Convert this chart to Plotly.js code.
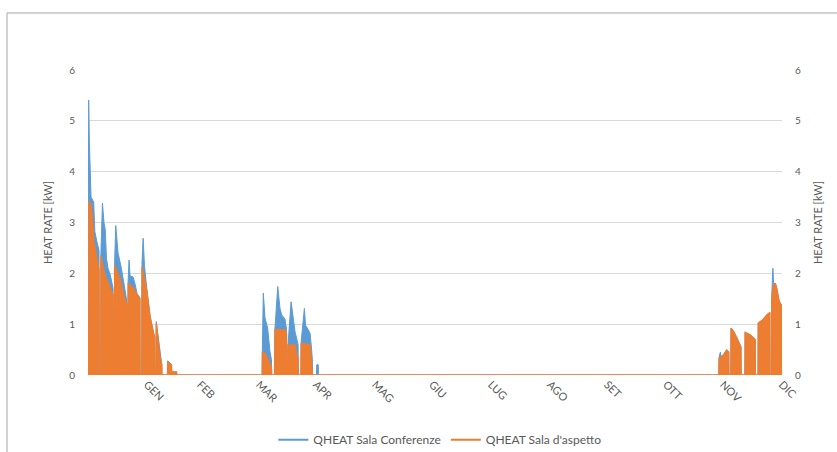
<!DOCTYPE html>
<html>
<head>
<meta charset="utf-8">
<script src="https://cdn.plot.ly/plotly-3.0.1.min.js"></script>
<style>
  html, body { margin: 0; padding: 0; background: #ffffff; }
  #chart { width: 837px; height: 452px; }
</style>
</head>
<body>
<div id="chart"></div>
<script>
// Month labels, placed at the last day of each month (day of year)
const monthLabels = ['GEN', 'FEB', 'MAR', 'APR', 'MAG', 'GIU', 'LUG', 'AGO', 'SET', 'OTT', 'NOV', 'DIC'];
const monthEndDay = [31, 59, 90, 120, 151, 181, 212, 243, 273, 304, 334, 365];

// QHEAT Sala Conferenze: day of year / heat rate [kW]
const confDay = [
  0, 0, 0.3, 0.35, 0.7, 1.2, 1.6, 3.0, 3.6, 4.7, 5.8, 5.9,
  6.7, 6.8, 7.6, 8.4, 9.1, 9.7, 10.5, 11.7, 12.6, 13.2, 13.3,
  13.9, 14.0, 14.6, 15.8, 17.4, 18.9, 20.0, 20.4, 20.5,
  21.0, 21.1, 21.6, 22.1, 23.7, 24.7, 25.8, 27.3, 27.4,
  28.3, 28.4, 29.0, 29.7, 30.9, 32.6, 34.4, 35.0, 35.1,
  35.8, 35.9, 37.9, 38.8, 38.9,
  41.8, 41.9, 43.9, 44.0, 46.6, 46.7,
  91.6, 91.7, 92.2, 93.1, 94.5, 95.7, 96.5, 96.6,
  98.2, 98.3, 99.8, 100.5, 101.0, 101.9, 103.6, 104.4, 104.5,
  105.1, 105.2, 106.8, 108.0, 108.9, 110.5, 110.6,
  112.0, 112.1, 113.8, 114.4, 115.7, 116.8, 117.6, 118.0, 118.1,
  120.2, 120.3, 121.1, 121.2,
  331.8, 331.9, 332.6, 333.0, 334.1, 335.9, 337.0, 337.1,
  338.1, 338.2, 339.7, 341.1, 342.9, 343.4, 343.5,
  345.5, 345.6, 348.2, 350.4, 350.9, 351.0,
  352.4, 352.5, 354.7, 357.0, 358.6, 358.7,
  359.5, 359.6, 360.2, 360.6, 361.5, 362.2, 363.5, 364.6, 364.8, 365
];
const confKw = [
  0, 0.95, 0.95, 5.41, 4.6, 4.0, 3.5, 3.4, 2.82, 2.62, 2.45, 0,
  0, 2.40, 3.38, 3.0, 2.85, 2.3, 2.1, 1.97, 1.84, 1.70, 0,
  0, 2.2, 2.94, 2.4, 2.13, 1.8, 1.55, 1.45, 0,
  0, 1.85, 2.26, 1.95, 1.93, 1.8, 1.6, 1.52, 0,
  0, 2.2, 2.69, 2.15, 1.7, 1.18, 0.82, 0.76, 0,
  0, 1.05, 0.38, 0.2, 0,
  0, 0.28, 0.2, 0.06, 0.06, 0,
  0, 0.5, 1.61, 1.12, 0.92, 0.46, 0.3, 0,
  0, 0.9, 1.74, 1.48, 1.3, 1.18, 1.1, 0.9, 0,
  0, 0.6, 1.44, 1.05, 0.85, 0.6, 0,
  0, 0.65, 1.31, 0.98, 0.9, 0.82, 0.5, 0.3, 0,
  0, 0.2, 0.2, 0,
  0, 0.35, 0.45, 0.36, 0.39, 0.49, 0.45, 0,
  0, 0.92, 0.85, 0.75, 0.59, 0.55, 0,
  0, 0.84, 0.79, 0.72, 0.70, 0,
  0, 1.02, 1.08, 1.18, 1.23, 0,
  0, 1.55, 2.10, 1.80, 1.80, 1.71, 1.45, 1.38, 0, 0
];

// QHEAT Sala d'aspetto: day of year / heat rate [kW]
const attesaDay = [
  0, 0, 0.4, 0.5, 1.5, 2.2, 3.0, 3.8, 5.0, 5.8, 5.9,
  6.7, 6.8, 8.7, 11.7, 13.2, 13.3,
  13.9, 14.0, 16.8, 19.5, 20.4, 20.5,
  21.0, 21.1, 23.7, 26.5, 27.3, 27.4,
  28.3, 28.4, 30.9, 32.6, 34.4, 35.0, 35.1,
  35.8, 35.9, 37.9, 38.8, 38.9,
  41.8, 41.9, 43.9, 44.0, 46.6, 46.7,
  91.6, 91.7, 93.6, 95.7, 96.5, 96.6,
  98.2, 98.3, 103.6, 104.4, 104.5,
  105.1, 105.2, 108.9, 109.8, 110.5, 110.6,
  112.0, 112.1, 116.8, 117.6, 118.0, 118.1,
  331.8, 331.9, 334.1, 335.9, 337.0, 337.1,
  338.1, 338.2, 339.7, 341.1, 342.9, 343.4, 343.5,
  345.5, 345.6, 348.2, 350.4, 350.9, 351.0,
  352.4, 352.5, 354.7, 357.0, 358.6, 358.7,
  359.5, 359.6, 360.5, 361.5, 362.2, 363.5, 364.6, 364.8, 365
];
const attesaKw = [
  0, 0.95, 0.95, 3.42, 3.35, 3.18, 2.65, 2.46, 2.26, 2.07, 0,
  0, 2.35, 2.0, 1.71, 1.58, 0,
  0, 2.16, 1.9, 1.47, 1.40, 0,
  0, 1.80, 1.72, 1.54, 1.50, 0,
  0, 2.13, 1.67, 1.15, 0.80, 0.75, 0,
  0, 1.02, 0.36, 0.2, 0,
  0, 0.26, 0.2, 0.06, 0.06, 0,
  0, 0.46, 0.40, 0.20, 0.15, 0,
  0, 0.89, 0.89, 0.82, 0,
  0, 0.59, 0.59, 0.39, 0.33, 0,
  0, 0.62, 0.60, 0.26, 0.2, 0,
  0, 0.33, 0.39, 0.49, 0.45, 0,
  0, 0.92, 0.85, 0.75, 0.59, 0.55, 0,
  0, 0.84, 0.79, 0.72, 0.70, 0,
  0, 1.02, 1.08, 1.18, 1.23, 0,
  0, 1.50, 1.77, 1.80, 1.71, 1.45, 1.38, 0, 0
];

const BLUE = '#5B9BD5';
const ORANGE = '#ED7D31';
const TEXT = '#595959';
const FONT = 'Lato, "Open Sans", sans-serif';

const traces = [
  {
    x: confDay, y: confKw, type: 'scatter', mode: 'lines',
    line: { color: BLUE, width: 1 }, fill: 'tozeroy', fillcolor: BLUE,
    showlegend: false, hoverinfo: 'skip'
  },
  {
    x: attesaDay, y: attesaKw, type: 'scatter', mode: 'lines',
    line: { color: ORANGE, width: 1.3 }, fill: 'tozeroy', fillcolor: ORANGE,
    showlegend: false, hoverinfo: 'skip'
  },
  // legend entries drawn as plain line samples
  {
    x: [null], y: [null], type: 'scatter', mode: 'lines',
    name: 'QHEAT Sala Conferenze', line: { color: BLUE, width: 2 }
  },
  {
    x: [null], y: [null], type: 'scatter', mode: 'lines', yaxis: 'y2',
    name: "QHEAT Sala d'aspetto", line: { color: ORANGE, width: 2 }
  }
];

const yCommon = {
  range: [0, 6], dtick: 1, ticks: '', zeroline: false, showline: false,
  tickfont: { family: FONT, size: 10, color: TEXT },
  ticklabelstandoff: 12, fixedrange: true, automargin: false,
  title: { text: 'HEAT RATE [kW]', font: { family: FONT, size: 11, color: TEXT }, standoff: 14 }
};

const layout = {
  width: 837, height: 452,
  margin: { l: 88, r: 55, t: 70, b: 77, autoexpand: false },
  paper_bgcolor: '#ffffff', plot_bgcolor: '#ffffff',
  font: { family: FONT, color: TEXT },
  xaxis: {
    range: [0, 365], tickmode: 'array', tickvals: monthEndDay, ticktext: monthLabels,
    tickangle: 45, ticks: '', showgrid: false, zeroline: false, showline: false,
    tickfont: { family: FONT, size: 11, color: TEXT }, fixedrange: true, automargin: false
  },
  yaxis: Object.assign({}, yCommon, { showgrid: true, gridcolor: '#d9d9d9', gridwidth: 1 }),
  yaxis2: Object.assign({}, yCommon, { overlaying: 'y', side: 'right', showgrid: false }),
  showlegend: true,
  legend: {
    orientation: 'h', xref: 'paper', x: 0.507, xanchor: 'center',
    yref: 'container', y: 0.027, yanchor: 'middle', itemwidth: 30,
    font: { family: FONT, size: 12, color: TEXT }, bgcolor: 'rgba(0,0,0,0)'
  },
  shapes: [{
    type: 'rect', xref: 'paper', yref: 'paper',
    x0: -0.1167, x1: 1.2, y0: -0.5, y1: 1.187,
    line: { color: '#a6a6a6', width: 1 }, fillcolor: 'rgba(0,0,0,0)'
  }]
};

Plotly.newPlot('chart', traces, layout, { displayModeBar: false, staticPlot: true });
</script>
</body>
</html>
